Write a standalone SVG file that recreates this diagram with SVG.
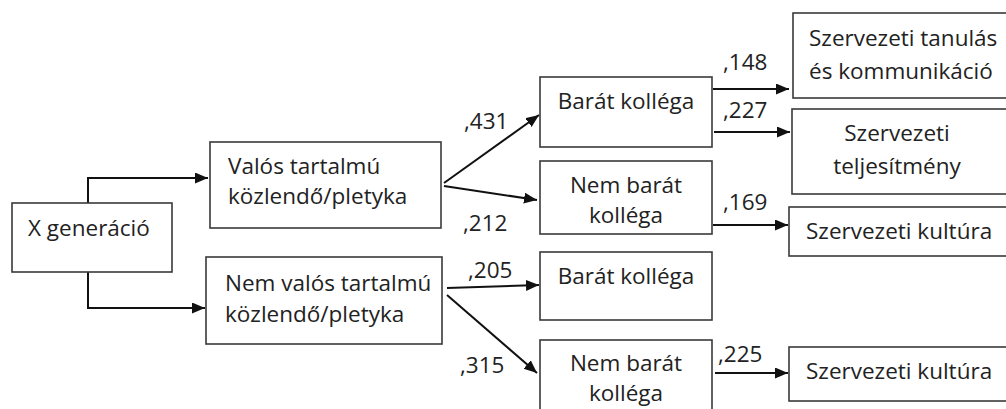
<svg xmlns="http://www.w3.org/2000/svg" width="1006" height="409" viewBox="0 0 1006 409">
<style>
.box{fill:#fff;stroke:#3a3a3a;stroke-width:1.6}
.t{font-family:"Open Sans","Liberation Sans",sans-serif;font-size:22.5px;fill:#222}
.c{text-anchor:middle}
.conn{fill:none;stroke:#111;stroke-width:2}
</style>
<defs>
<marker id="ah" markerUnits="userSpaceOnUse" markerWidth="16" markerHeight="14" refX="13" refY="5.5" orient="auto">
<path d="M0,0 L13,5.5 L0,11 z" fill="#111"/>
</marker>
</defs>
<rect width="1006" height="409" fill="#fff"/>
<g id="connectors">
<path class="conn" d="M88,203 V178 H208" marker-end="url(#ah)"/>
<path class="conn" d="M88,272 V308 H205" marker-end="url(#ah)"/>
<path class="conn" d="M444,183 L539,115" marker-end="url(#ah)"/>
<path class="conn" d="M444,186 L537,200" marker-end="url(#ah)"/>
<path class="conn" d="M447,288 L539,285" marker-end="url(#ah)"/>
<path class="conn" d="M447,295 L537,373" marker-end="url(#ah)"/>
<path class="conn" d="M713,89 H789" marker-end="url(#ah)"/>
<path class="conn" d="M714,132 H790" marker-end="url(#ah)"/>
<path class="conn" d="M713,225 H788" marker-end="url(#ah)"/>
<path class="conn" d="M715,373 H788" marker-end="url(#ah)"/>
<text class="t" x="464" y="129">,431</text>
<text class="t" x="463" y="231">,212</text>
<text class="t" x="468" y="278">,205</text>
<text class="t" x="460" y="373">,315</text>
<text class="t" x="723" y="70">,148</text>
<text class="t" x="723" y="118">,227</text>
<text class="t" x="723" y="210">,169</text>
<text class="t" x="718" y="362">,225</text>
</g>
<g id="x-generacio">
<rect class="box" x="12" y="203" width="160" height="69"/>
<text class="t" x="28" y="236">X generáció</text>
</g>
<g id="valos">
<rect class="box" x="210" y="142" width="231" height="86"/>
<text class="t" x="228" y="174">Valós tartalmú</text>
<text class="t" x="228" y="204">közlendő/pletyka</text>
</g>
<g id="nem-valos">
<rect class="box" x="206" y="257" width="236" height="87"/>
<text class="t" x="225" y="291">Nem valós tartalmú</text>
<text class="t" x="225" y="322">közlendő/pletyka</text>
</g>
<g id="barat-1">
<rect class="box" x="540" y="77" width="172" height="70"/>
<text class="t c" x="626" y="109">Barát kolléga</text>
</g>
<g id="nem-barat-1">
<rect class="box" x="540" y="161" width="172" height="73"/>
<text class="t c" x="626" y="193">Nem barát</text>
<text class="t c" x="626" y="223">kolléga</text>
</g>
<g id="barat-2">
<rect class="box" x="540" y="252" width="172" height="68"/>
<text class="t c" x="626" y="284">Barát kolléga</text>
</g>
<g id="nem-barat-2">
<rect class="box" x="540" y="340" width="172" height="80"/>
<text class="t c" x="626" y="371">Nem barát</text>
<text class="t c" x="626" y="401">kolléga</text>
</g>
<g id="tanulas">
<rect class="box" x="793" y="13" width="220" height="85"/>
<text class="t" x="809" y="46">Szervezeti tanulás</text>
<text class="t" x="809" y="79">és kommunikáció</text>
</g>
<g id="teljesitmeny">
<rect class="box" x="792" y="109" width="220" height="85"/>
<text class="t c" x="897" y="141">Szervezeti</text>
<text class="t c" x="897" y="174">teljesítmény</text>
</g>
<g id="kultura-1">
<rect class="box" x="789" y="207" width="223" height="49"/>
<text class="t" x="806" y="239">Szervezeti kultúra</text>
</g>
<g id="kultura-2">
<rect class="box" x="789" y="347" width="223" height="54"/>
<text class="t" x="806" y="379">Szervezeti kultúra</text>
</g>
</svg>
